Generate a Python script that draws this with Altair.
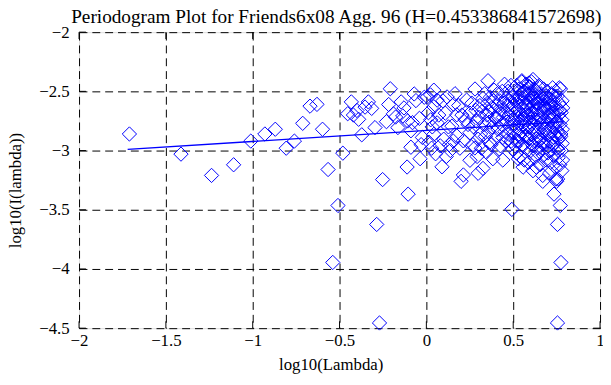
import altair as alt
import pandas as pd

title_text = "Periodogram Plot for Friends6x08 Agg. 96 (H=0.453386841572698)"
x_ticks = [-2, -1.5, -1, -0.5, 0, 0.5, 1]
y_ticks = [-4.5, -4, -3.5, -3, -2.5, -2]

# log10(lambda) < -0.5
band_a_x = [-1.71, -1.413, -1.237, -1.11, -1.011, -0.93, -0.87, -0.807, -0.76, -0.712,
            -0.67, -0.63, -0.598, -0.566, -0.539, -0.509]
band_a_y = [-2.86, -3.03, -3.21, -3.12, -2.92, -2.86, -2.82, -2.98, -2.92, -2.77,
            -2.625, -2.61, -2.82, -3.16, -3.945, -3.464]

# -0.5 .. 0
band_b_x = [-0.481, -0.453, -0.432, -0.42, -0.40, -0.39, -0.372, -0.353, -0.334, -0.315,
            -0.296, -0.286, -0.27, -0.252, -0.23, -0.217, -0.208, -0.19, -0.177, -0.164,
            -0.145, -0.136, -0.129, -0.111, -0.108, -0.105, -0.089, -0.089, -0.08, -0.07,
            -0.06, -0.04, -0.036, -0.03, -0.023, -0.012]
band_b_y = [-3.022, -2.689, -2.589, -2.70, -2.661, -2.736, -2.867, -2.633, -2.589, -2.644,
            -2.806, -3.624, -4.456, -3.245, -2.756, -2.611, -2.478, -2.69, -2.717, -2.806,
            -2.589, -2.708, -2.64, -3.139, -2.75, -3.368, -2.833, -2.972, -2.764, -2.522,
            -2.578, -2.728, -3.069, -2.95, -2.889, -2.55]

# 0 .. 0.3
band_c_x = [0.006, 0.015, 0.024, 0.025, 0.043, 0.043, 0.043, 0.053, 0.062, 0.062,
            0.09, 0.1, 0.109, 0.119, 0.138, 0.147, 0.157, 0.175, 0.175, 0.2,
            0.213, 0.213, 0.223, 0.232, 0.251, 0.251, 0.251, 0.279, 0.28, 0.289,
            0.298, 0.298,
            0.012, 0.034, 0.071, 0.08, 0.095, 0.127, 0.132, 0.165, 0.186, 0.193,
            0.205, 0.24, 0.262, 0.268, 0.272, 0.285, 0.292, 0.03, 0.115, 0.155]
band_c_y = [-2.547, -2.93, -2.53, -2.74, -2.49, -2.63, -2.863, -3.027, -2.574, -2.766,
            -3.137, -2.904, -2.684, -2.547, -3.0, -2.794, -2.61, -2.698, -2.876, -3.26,
            -2.918, -3.206, -2.74, -2.574, -2.684, -2.849, -3.082, -2.978, -2.48, -2.753,
            -2.904, -3.192,
            -2.68, -2.80, -2.70, -2.96, -2.58, -2.80, -2.95, -2.52, -2.62, -2.98,
            -2.70, -2.78, -2.60, -2.95, -2.80, -2.66, -3.05, -2.98, -3.05, -2.92]

# 0.3 .. 0.5
band_d_x = [0.326, 0.326, 0.345, 0.355, 0.364, 0.364, 0.383, 0.39, 0.402, 0.42,
            0.44, 0.44, 0.45, 0.487, 0.492, 0.496,
            0.303, 0.308, 0.312, 0.317, 0.321, 0.331, 0.336, 0.34, 0.349, 0.352,
            0.358, 0.361, 0.368, 0.372, 0.376, 0.379, 0.386, 0.394, 0.397, 0.405,
            0.409, 0.412, 0.416, 0.423, 0.427, 0.43, 0.434, 0.437, 0.443, 0.447,
            0.452, 0.455, 0.458, 0.461, 0.464, 0.467, 0.47, 0.473, 0.476, 0.479,
            0.482, 0.485, 0.489, 0.494, 0.498]
band_d_y = [-2.56, -3.151, -3.014, -2.41, -2.67, -2.931, -3.069, -2.49, -2.725, -2.986,
            -2.89, -3.08, -2.44, -2.45, -3.497, -2.986,
            -2.72, -2.62, -2.86, -2.98, -2.67, -2.78, -2.52, -2.88, -2.70, -2.60,
            -2.84, -2.76, -2.55, -2.95, -2.64, -2.80, -2.58, -2.72, -2.90, -2.62,
            -2.52, -2.82, -2.70, -2.58, -2.96, -2.66, -2.78, -2.50, -2.72, -2.60,
            -2.84, -2.68, -2.56, -2.92, -2.76, -2.62, -2.50, -2.86, -2.70, -2.58,
            -2.80, -2.64, -2.92, -2.74, -2.54]

# 0.5 .. 0.79 (dense cluster)
band_e_x = [0.502, 0.504, 0.507, 0.509, 0.511, 0.513, 0.516, 0.518, 0.520, 0.522,
            0.525, 0.527, 0.529, 0.531, 0.534, 0.536, 0.538, 0.540, 0.543, 0.545,
            0.547, 0.549, 0.552, 0.554, 0.556, 0.558, 0.561, 0.563, 0.565, 0.567,
            0.570, 0.572, 0.574, 0.576, 0.579, 0.581, 0.583, 0.585, 0.588, 0.590,
            0.592, 0.594, 0.597, 0.599, 0.601, 0.603, 0.606, 0.608, 0.610, 0.612,
            0.615, 0.617, 0.619, 0.621, 0.624, 0.626, 0.628, 0.630, 0.633, 0.635,
            0.637, 0.639, 0.642, 0.644, 0.646, 0.648, 0.651, 0.653, 0.655, 0.657,
            0.660, 0.662, 0.664, 0.666, 0.669, 0.671, 0.673, 0.675, 0.678, 0.680,
            0.682, 0.684, 0.687, 0.689, 0.691, 0.693, 0.696, 0.698, 0.700, 0.702,
            0.705, 0.707, 0.709, 0.711, 0.714, 0.716, 0.718, 0.720, 0.723, 0.725,
            0.727, 0.729, 0.732, 0.734, 0.736, 0.738, 0.741, 0.743, 0.745, 0.747,
            0.750, 0.752, 0.754, 0.756, 0.759, 0.761, 0.763, 0.765, 0.768, 0.770,
            0.772, 0.774, 0.776, 0.778, 0.780, 0.781, 0.782, 0.783, 0.784, 0.785]
band_e_y = [-2.62, -2.85, -2.50, -2.74, -2.96, -2.58, -2.68, -3.02, -2.45, -2.80,
            -2.66, -2.92, -2.55, -2.72, -2.48, -2.88, -2.62, -3.05, -2.76, -2.52,
            -2.84, -2.42, -2.70, -2.95, -2.60, -2.78, -2.50, -3.08, -2.66, -2.88,
            -2.56, -2.74, -2.44, -2.98, -2.64, -2.82, -2.52, -2.70, -3.10, -2.60,
            -2.90, -2.46, -2.76, -2.58, -3.00, -2.68, -2.42, -2.86, -2.54, -2.72,
            -2.96, -2.62, -2.48, -2.80, -3.06, -2.56, -2.74, -2.90, -2.66, -2.50,
            -2.84, -2.60, -3.02, -2.70, -2.46, -2.92, -2.58, -2.78, -3.12, -2.64,
            -2.52, -2.86, -2.72, -2.98, -2.56, -2.68, -3.04, -2.48, -2.82, -2.62,
            -2.94, -2.74, -2.54, -3.08, -2.66, -2.86, -2.50, -2.78, -2.96, -2.60,
            -2.70, -3.00, -2.56, -2.84, -2.64, -3.10, -2.74, -2.52, -2.90, -2.68,
            -2.80, -2.58, -3.04, -2.72, -2.94, -2.62, -2.86, -3.14, -2.50, -2.76,
            -2.66, -2.98, -2.54, -2.84, -3.06, -2.70, -2.90, -2.60, -3.12, -2.78,
            -2.48, -2.88, -2.68, -3.00, -2.74, -2.58, -2.94, -2.82, -3.08, -2.64]

# more of the dense cluster
band_g_x = [0.505, 0.512, 0.519, 0.526, 0.533, 0.541, 0.548, 0.555, 0.562, 0.569,
            0.577, 0.584, 0.591, 0.598, 0.605, 0.611, 0.618, 0.625, 0.632, 0.638,
            0.645, 0.652, 0.659, 0.665, 0.672, 0.679, 0.686, 0.692, 0.699, 0.706,
            0.712, 0.719, 0.726, 0.733, 0.739, 0.746, 0.753, 0.760, 0.767, 0.774]
band_g_y = [-2.78, -2.58, -2.92, -2.66, -2.86, -2.54, -2.74, -2.96, -2.50, -2.70,
            -2.88, -2.62, -2.80, -2.52, -2.94, -2.68, -2.56, -2.84, -2.74, -2.98,
            -2.60, -2.90, -2.54, -2.76, -2.94, -2.64, -2.82, -2.56, -3.02, -2.72,
            -2.86, -2.62, -2.96, -2.70, -2.54, -2.88, -2.76, -3.00, -2.66, -2.86]

# outliers and edges of the cluster
band_f_x = [0.53, 0.557, 0.614, 0.633, 0.67, 0.67, 0.71, 0.735, 0.746, 0.75,
            0.755, 0.755, 0.756, 0.771, 0.775, 0.78, 0.55, 0.59, 0.65, 0.727,
            0.765, 0.614]
band_f_y = [-3.07, -3.14, -3.17, -3.14, -3.21, -3.26, -3.19, -3.368, -3.24, -3.26,
            -3.624, -4.456, -3.24, -3.464, -3.945, -3.17, -2.41, -2.43, -2.45, -2.47,
            -2.47, -2.40]

# least-squares fit line
fit_x = [-1.72, 0.785]
fit_y = [-2.99, -2.757]

xs = band_a_x + band_b_x + band_c_x + band_d_x + band_e_x + band_g_x + band_f_x
ys = band_a_y + band_b_y + band_c_y + band_d_y + band_e_y + band_g_y + band_f_y
points = pd.DataFrame({"x": xs, "y": ys})
fit = pd.DataFrame({"x": fit_x, "y": fit_y})
xt = pd.DataFrame({"v": x_ticks})
yt = pd.DataFrame({"v": y_ticks})
title_df = pd.DataFrame({"t": [title_text]})

font = "Liberation Serif"
x_scale = alt.Scale(domain=[-2, 1], nice=False, zero=False)
y_scale = alt.Scale(domain=[-4.5, -2], nice=False, zero=False)

x_axis = alt.Axis(values=x_ticks, format="~g", title="log10(Lambda)", grid=True,
                  gridDash=[8, 5], gridColor="black", gridWidth=1, gridOpacity=1,
                  domain=False, ticks=False,
                  labelPadding=5, labelFont=font, labelFontSize=17, labelColor="black",
                  labelFlush=False, labelOverlap=False,
                  titleFont=font, titleFontSize=17, titleFontWeight="normal", titleColor="black",
                  titleX=255, titleY=42, titleBaseline="alphabetic", titleAlign="center")
y_axis = alt.Axis(values=y_ticks, format="~g", title="log10(I(lambda))", grid=True,
                  gridDash=[8, 5], gridColor="black", gridWidth=1, gridOpacity=1,
                  domain=False, ticks=False,
                  labelPadding=10, labelFont=font, labelFontSize=17, labelColor="black",
                  labelFlush=False, labelOverlap=False,
                  titleFont=font, titleFontSize=17, titleFontWeight="normal", titleColor="black",
                  titleX=-59, titleY=160, titleAngle=270, titleBaseline="alphabetic",
                  titleAlign="center")

X = alt.X("x:Q", scale=x_scale, axis=x_axis)
Y = alt.Y("y:Q", scale=y_scale, axis=y_axis)

pts = alt.Chart(points).mark_point(shape="diamond", filled=False, size=210,
                                   color="#0000ff", strokeWidth=1, opacity=1).encode(x=X, y=Y)
line = alt.Chart(fit).mark_line(color="#0000ff", strokeWidth=1.5).encode(x=X, y=Y)

YT = alt.Y("v:Q", scale=y_scale, axis=y_axis)
XT = alt.X("v:Q", scale=x_scale, axis=x_axis)
tick_l = alt.Chart(yt).mark_rule(color="black", strokeWidth=1).encode(
    y=YT, x=alt.value(0), x2=alt.value(7))
tick_r = alt.Chart(yt).mark_rule(color="black", strokeWidth=1).encode(
    y=YT, x=alt.value(521), x2=alt.value(528))
tick_b = alt.Chart(xt).mark_rule(color="black", strokeWidth=1).encode(
    x=XT, y=alt.value(293), y2=alt.value(300))
tick_t = alt.Chart(xt).mark_rule(color="black", strokeWidth=1).encode(
    x=XT, y=alt.value(0), y2=alt.value(7))

title_mark = alt.Chart(title_df).mark_text(
    align="left", baseline="alphabetic", font=font, fontSize=19.5, color="black"
).encode(text="t:N", x=alt.value(-8), y=alt.value(-9))

chart = alt.layer(pts, line, tick_l, tick_r, tick_b, tick_t, title_mark).properties(
    width=528, height=300,
    autosize=alt.AutoSizeParams(type="none"),
    padding={"left": 72, "top": 22, "right": 3, "bottom": 47},
).configure_view(stroke="black", strokeWidth=2).configure(background="white")

chart.save("out.html", embed_options={"renderer": "svg", "actions": False})
